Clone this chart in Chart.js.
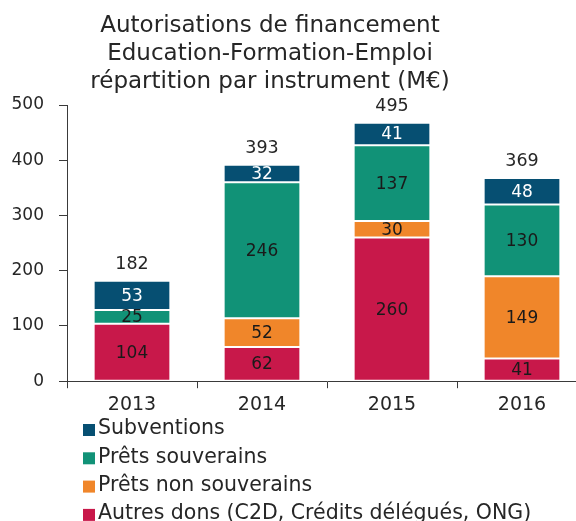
<!DOCTYPE html>
<html><head><meta charset="utf-8">
<script src="https://cdn.jsdelivr.net/npm/chart.js@4.4.1/dist/chart.umd.min.js"></script>
<style>
  html, body { margin: 0; padding: 0; background: #fff; overflow: hidden; }
  #wrap { width: 576px; height: 521px; overflow: hidden; position: relative; }
  #box { width: 600px; height: 521px; position: absolute; left: 0; top: 0; }
</style>
</head>
<body>
<div id="wrap"><div id="box"><canvas id="chart"></canvas></div></div>
<script>
// Autorisations de financement, secteur Education-Formation-Emploi (M€)
const years = ['2013', '2014', '2015', '2016'];
const autresDons = [104, 62, 260, 41];
const pretsNonSouverains = [0, 52, 30, 149];
const pretsSouverains = [25, 246, 137, 130];
const subventions = [53, 32, 41, 48];
const totals = [182, 393, 495, 369];
const titleLines = [
  'Autorisations de financement',
  'Education-Formation-Emploi',
  'répartition par instrument (M€)'
];

const FONT = '"DejaVu Sans", sans-serif';
const TEXT = '#262626';

// Stacked series, bottom to top
const series = [
  { label: 'Autres dons (C2D, Crédits délégués, ONG)', data: autresDons, color: '#c8184a', text: '#1a1a1a' },
  { label: 'Prêts non souverains', data: pretsNonSouverains, color: '#f0862a', text: '#1a1a1a' },
  { label: 'Prêts souverains', data: pretsSouverains, color: '#119277', text: '#1a1a1a' },
  { label: 'Subventions', data: subventions, color: '#064f72', text: '#ffffff' }
];

// Title block above the plot
const titlePlugin = {
  id: 'titleBlock',
  afterDraw(chart) {
    const c = chart.ctx;
    c.save();
    c.font = '23px ' + FONT;
    c.fillStyle = TEXT;
    c.textAlign = 'center';
    c.textBaseline = 'alphabetic';
    titleLines.forEach((t, i) => c.fillText(t, 270, 32 + i * 28));
    c.restore();
  }
};

// Values inside each segment and totals above each stack
const labelPlugin = {
  id: 'segmentLabels',
  afterDatasetsDraw(chart) {
    const c = chart.ctx;
    c.save();
    c.textAlign = 'center';
    c.textBaseline = 'middle';
    c.font = '17px ' + FONT;
    chart.data.datasets.forEach((ds, di) => {
      const meta = chart.getDatasetMeta(di);
      meta.data.forEach((bar, i) => {
        const v = ds.data[i];
        if (!v) return;
        c.fillStyle = series[di].text;
        c.fillText(String(v), bar.x, (bar.y + bar.base) / 2 + 1);
      });
    });
    const top = chart.getDatasetMeta(chart.data.datasets.length - 1);
    c.font = '17.5px ' + FONT;
    c.fillStyle = TEXT;
    top.data.forEach((bar, i) => {
      c.fillText(String(totals[i]), bar.x, bar.y - 16);
    });
    c.restore();
  }
};

// Vertical legend below the x axis, top series first
const legendPlugin = {
  id: 'vLegend',
  afterDraw(chart) {
    const c = chart.ctx;
    c.save();
    c.font = '20.5px ' + FONT;
    c.textBaseline = 'middle';
    c.textAlign = 'left';
    const items = series.slice().reverse();
    items.forEach((s, i) => {
      const y = 429 + i * 28.3;
      c.fillStyle = s.color;
      c.fillRect(83, y - 5, 12, 12);
      c.fillStyle = TEXT;
      c.fillText(s.label, 98, y);
    });
    c.restore();
  }
};

new Chart(document.getElementById('chart'), {
  type: 'bar',
  data: {
    labels: years,
    datasets: series.map(s => ({
      label: s.label,
      data: s.data,
      backgroundColor: s.color,
      borderColor: 'rgba(255,255,255,0.5)',
      borderWidth: 1,
      borderSkipped: false,
      categoryPercentage: 1,
      barPercentage: 0.59
    }))
  },
  options: {
    responsive: true,
    maintainAspectRatio: false,
    animation: false,
    layout: { padding: { top: 105, right: 13, bottom: 100, left: 0 } },
    plugins: { legend: { display: false }, title: { display: false }, tooltip: { enabled: false } },
    scales: {
      x: {
        stacked: true,
        grid: { display: true, offset: true, drawOnChartArea: false, tickLength: 7, color: '#3a3a3a', lineWidth: 1 },
        border: { display: true, color: '#3a3a3a', width: 1 },
        ticks: { color: TEXT, font: { family: FONT, size: 19 }, padding: 5 }
      },
      y: {
        stacked: true,
        min: 0, max: 500,
        afterFit(scale) { scale.width = 67; },
        grid: { display: true, drawOnChartArea: false, tickLength: 8, color: '#3a3a3a', lineWidth: 1 },
        border: { display: true, color: '#3a3a3a', width: 1 },
        ticks: { stepSize: 100, color: TEXT, font: { family: FONT, size: 17 }, padding: 15 }
      }
    }
  },
  plugins: [titlePlugin, labelPlugin, legendPlugin]
});
</script>
</body></html>
